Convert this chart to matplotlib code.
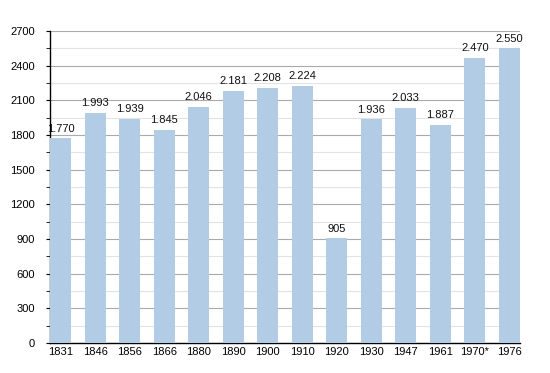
import matplotlib
matplotlib.use("Agg")
import matplotlib.pyplot as plt
from matplotlib.ticker import MultipleLocator

years = ["1831", "1846", "1856", "1866", "1880", "1890", "1900", "1910",
         "1920", "1930", "1947", "1961", "1970*", "1976"]
population = [1770, 1993, 1939, 1845, 2046, 2181, 2208, 2224,
              905, 1936, 2033, 1887, 2470, 2550]

plt.rcParams['font.family'] = ['Liberation Sans', 'DejaVu Sans']

fig = plt.figure(figsize=(5.5, 3.73), dpi=100)
ax = fig.add_axes([50/550, 1-343/373, 470/550, (343-31)/373])
ax.set_axisbelow(True)

w = 0.61
x = list(range(len(years)))
ax.bar(x, population, width=w, color='#b3cce6', zorder=3)
for xi, v in zip(x, population):
    label = f"{v:,}".replace(",", ".")
    ax.text(xi, v + 40, label, ha='center', va='bottom', fontsize=8, color='#111111', zorder=4)

ax.set_xlim(-w/2, len(years) - 1 + w/2)
ax.set_ylim(0, 2700)
ax.yaxis.set_major_locator(MultipleLocator(300))
ax.yaxis.set_minor_locator(MultipleLocator(150))
ax.grid(which='major', axis='y', color='#aaaaaa', linewidth=0.8)
ax.grid(which='minor', axis='y', color='#e3e3e3', linewidth=0.8)
ax.set_xticks(x)
ax.set_xticklabels(years)
ax.tick_params(axis='x', length=0, labelsize=8, pad=3)
ax.tick_params(axis='y', which='major', length=3, labelsize=8, direction='out', pad=8)
ax.tick_params(axis='y', which='minor', length=3, direction='out')
for s in ['top', 'right']:
    ax.spines[s].set_visible(False)
ax.spines['left'].set_linewidth(1)
ax.spines['bottom'].set_linewidth(1)

fig.savefig("out.png", dpi=100)
